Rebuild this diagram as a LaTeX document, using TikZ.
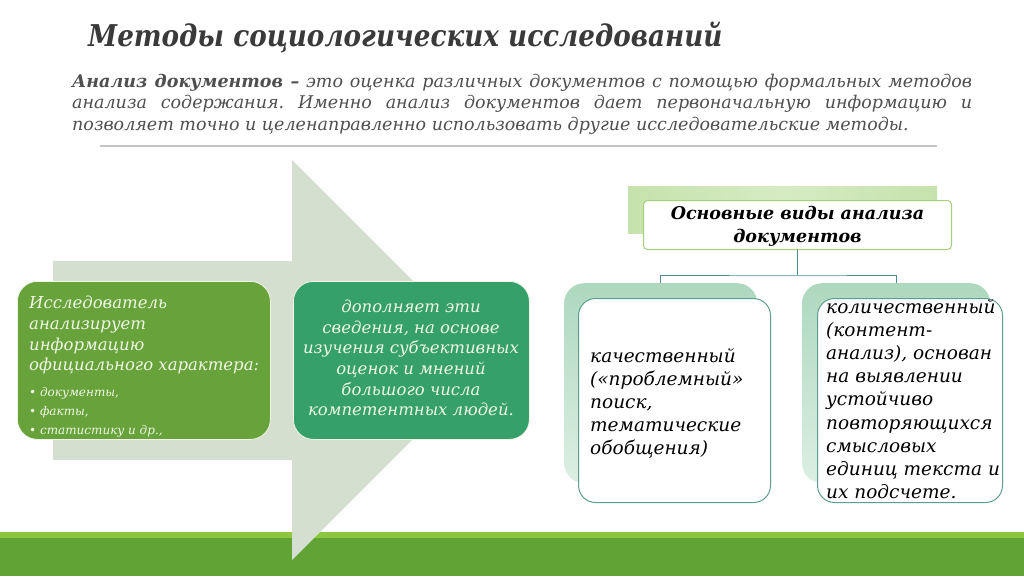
\documentclass[tikz,border=0pt]{standalone}
\usepackage{fontspec}
\usepackage{graphicx}
\setmainfont{DejaVu Serif}
\frenchspacing
\definecolor{titlec}{HTML}{3A3A3A}
\definecolor{bodyc}{HTML}{4F4F4F}
\definecolor{arrowc}{HTML}{D4DFD0}
\definecolor{greenA}{HTML}{67A33A}
\definecolor{greenB}{HTML}{36A06A}
\definecolor{boxtext}{HTML}{F0F6E6}
\definecolor{bandlight}{HTML}{8DC63F}
\definecolor{banddark}{HTML}{62A336}
\definecolor{hdrback}{HTML}{C6E2AC}
\definecolor{hdrbackB}{HTML}{D6EBC3}
\definecolor{hdrborder}{HTML}{A3D07A}
\definecolor{mintA}{HTML}{ADD8BE}
\definecolor{mintB}{HTML}{DCEFE3}
\definecolor{tealborder}{HTML}{5E9E90}
\definecolor{connc}{HTML}{4E8D8A}
\definecolor{sepc}{HTML}{C4C4C4}
\tikzset{
  greenbox/.style={rounded corners=20pt, draw=boxtext, line width=0.8pt, anchor=north west, inner sep=0pt},
  backbox/.style={rounded corners=20pt, top color=mintA, bottom color=mintB, anchor=north west, inner sep=0pt},
  frontbox/.style={rounded corners=17pt, draw=tealborder, line width=1pt, fill=white, anchor=north west, inner sep=0pt},
  conn/.style={draw=connc, line width=1pt},
  gtext/.style={text=boxtext, inner sep=0pt},
  btext/.style={text=black, inner sep=0pt, align=left, anchor=north west, font=\fontsize{18.5}{23.2}\selectfont\itshape},
}
\begin{document}
\begin{tikzpicture}[x=1pt,y=-1pt]
\useasboundingbox (0,0) rectangle (1024,576);
\fill[white] (0,0) rectangle (1024,576);
% bottom band
\fill[bandlight] (0,532) rectangle (1024,539);
\fill[banddark] (0,538) rectangle (1024,576);
% big arrow
\fill[arrowc] (53,261) -- (292,261) -- (292,160) -- (492,360) -- (292,560) -- (292,460) -- (53,460) -- cycle;
% title
\node[anchor=base west, inner sep=0pt, text=titlec, font=\fontsize{30}{34}\selectfont\bfseries\itshape] (title) at (88,46) {\scalebox{0.875}[1]{Методы социологических исследований}};
% body
\node[anchor=north west, inner sep=0pt, text width=900pt, align=justify, text=bodyc, font=\fontsize{17.5}{21.3}\selectfont\itshape] (body) at (72,74)
{\textbf{Анализ документов –} это оценка различных документов с помощью формальных методов\linebreak анализа содержания. Именно анализ документов дает первоначальную информацию и\linebreak позволяет точно и целенаправленно использовать другие исследовательские методы.};
% separator
\coordinate (s1) at (100,145.5);
\coordinate (s2) at (937,145.5);
\draw[sepc, line width=2pt] (s1) -- (s2);
% green boxes
\node[greenbox, fill=greenA, minimum width=253pt, minimum height=158pt] (gb1) at (17,281) {};
\node[greenbox, fill=greenB, minimum width=236pt, minimum height=158pt] (gb2) at (293,281) {};
\node[gtext, anchor=north west, align=left, font=\fontsize{16.5}{20.7}\selectfont\itshape] (gt1) at (29,296)
{Исследователь\\анализирует\\информацию\\официального характера:};
\node[gtext, anchor=north west, align=left, font=\fontsize{12}{19}\selectfont\itshape] (gt1b) at (29,387)
{• документы,\\• факты,\\• статистику и др.,};
\node[gtext, anchor=north, align=center, font=\fontsize{16.5}{20.6}\selectfont\itshape] (gt2) at (411,300)
{дополняет эти\\сведения, на основе\\изучения субъективных\\оценок и мнений\\большого числа\\компетентных людей.};
% header
\node[left color=hdrback, right color=hdrback, middle color=hdrbackB, anchor=north west, minimum width=309pt, minimum height=47pt, inner sep=0pt] (hb) at (628,186) {};
\node[draw=hdrborder, line width=1pt, fill=white, rounded corners=4pt, anchor=north west, minimum width=308pt, minimum height=49pt, inner sep=0pt] (hf) at (643,200) {};
\node[inner sep=0pt, align=center, font=\fontsize{17.5}{23}\selectfont\bfseries\itshape] (ht) at ([yshift=-1pt]hf.center) {Основные виды анализа\\документов};
% lower boxes
\node[backbox, minimum width=193pt, minimum height=200pt] (lb) at (564,283) {};
\node[backbox, minimum width=188pt, minimum height=200pt] (rb) at (802,283) {};
\node[frontbox, minimum width=192pt, minimum height=204pt] (lf) at (578,298) {};
\node[frontbox, minimum width=185pt, minimum height=204pt] (rf) at (817,298) {};
\node[btext] (lt) at (590,348) {качественный\\(«проблемный»\\поиск,\\тематические\\обобщения)};
\node[btext] (rt) at (826,299) {количественный\\(контент-\\анализ), основан\\на выявлении\\устойчиво\\повторяющихся\\смысловых\\единиц текста и\\их подсчете.};
% connectors
\coordinate (jn) at (hf.south |- 0,275);
\draw[conn] (hf.south) -- (jn);
\draw[conn] (lb.north) |- (jn) -| (rb.north);
\end{tikzpicture}
\end{document}
